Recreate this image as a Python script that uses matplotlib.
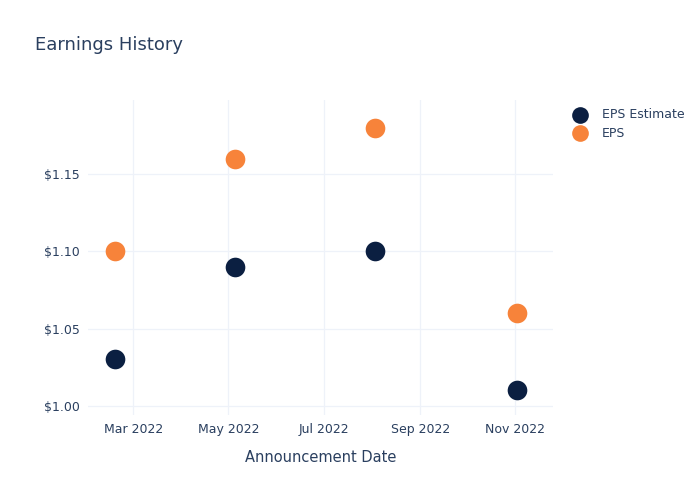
import matplotlib
matplotlib.use("Agg")
import matplotlib.pyplot as plt
import pandas as pd

dates = pd.to_datetime(["2022-02-17", "2022-05-05", "2022-08-03", "2022-11-02"])
eps_estimate = [1.03, 1.09, 1.10, 1.01]
eps_actual = [1.10, 1.16, 1.18, 1.06]

tick_dates = pd.to_datetime(["2022-03-01", "2022-05-01", "2022-07-01", "2022-09-01", "2022-11-01"])
tick_labels = ["Mar 2022", "May 2022", "Jul 2022", "Sep 2022", "Nov 2022"]

text_col = "#2a3f5f"
grid_col = "#eef2f9"

fig = plt.figure(figsize=(7, 5), dpi=100)
ax = fig.add_axes([0.1257, 0.17, 0.664, 0.63])

ax.scatter(dates, eps_estimate, s=200, color="#0b1f41", label="EPS Estimate", zorder=3, linewidths=0)
ax.scatter(dates, eps_actual, s=200, color="#f7833a", label="EPS", zorder=3, linewidths=0)

ax.set_xlim(pd.Timestamp("2022-01-31"), pd.Timestamp("2022-11-25"))
ax.set_ylim(0.994, 1.198)
ax.set_xticks(tick_dates)
ax.set_xticklabels(tick_labels)
ax.set_yticks([1.00, 1.05, 1.10, 1.15])
ax.set_yticklabels(["$1.00", "$1.05", "$1.10", "$1.15"])

ax.grid(True, color=grid_col, linewidth=0.9)
ax.set_axisbelow(True)
for s in ax.spines.values():
    s.set_visible(False)
ax.tick_params(length=0, labelsize=9, colors=text_col, pad=6)

ax.set_xlabel("Announcement Date", fontsize=10.5, color=text_col, labelpad=10)
fig.text(0.05, 0.9, "Earnings History", fontsize=13, color=text_col)

leg = ax.legend(loc="upper left", bbox_to_anchor=(1.02, 0.99), frameon=False,
                fontsize=9, labelcolor=text_col, handletextpad=0.8, borderaxespad=0,
                labelspacing=0.45, markerscale=0.85)

fig.savefig("out.png", dpi=100)
